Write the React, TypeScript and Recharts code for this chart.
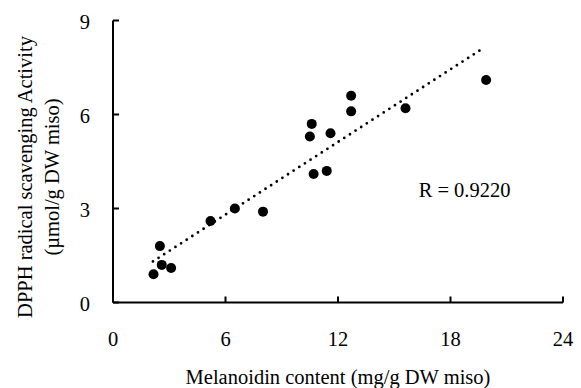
import { ReferenceDot, Scatter, ScatterChart, XAxis, YAxis } from "recharts";

const melanoidin = [2.16, 2.5, 2.6, 3.1, 5.2, 6.5, 8.0, 10.5, 10.6, 10.7, 11.4, 11.6, 12.7, 12.7, 15.6, 19.9];
const dpph = [0.9, 1.8, 1.2, 1.1, 2.6, 3.0, 2.9, 5.3, 5.7, 4.1, 4.2, 5.4, 6.6, 6.1, 6.2, 7.1];

// trendline ends
const trendX = [2.13, 19.6];
const trendY = [1.31, 8.06];

const xTicks = [0, 6, 12, 18, 24];
const yTicks = [0, 3, 6, 9];

const points = melanoidin.map((x, i) => ({ x, y: dpph[i] }));
const trend = trendX.map((x, i) => ({ x, y: trendY[i] }));

const font = '"Liberation Serif", "Times New Roman", serif';
const fs = 20.5;

function XTick({ x, y, payload }: any) {
  return (
    <g>
      <line x1={x} y1={y} x2={x} y2={y - 6} stroke="#000" strokeWidth={2} />
      <text x={x} y={y + 43.5} textAnchor="middle" fontFamily={font} fontSize={fs} fill="#000">
        {payload.value}
      </text>
    </g>
  );
}

function YTick({ x, y, payload }: any) {
  return (
    <g>
      <line x1={x} y1={y} x2={x + 6} y2={y} stroke="#000" strokeWidth={2} />
      <text x={x - 23} y={y} dy="0.4em" textAnchor="end" fontFamily={font} fontSize={fs} fill="#000">
        {payload.value}
      </text>
    </g>
  );
}

const Dot = (p: any) => <circle cx={p.cx} cy={p.cy} r={5} fill="#000" />;
const NoDot = () => null;

export default function App() {
  return (
    <div style={{ position: "absolute", left: 0, top: 0, width: 581, height: 388, background: "#fff" }}>
      <ScatterChart width={581} height={388} margin={{ top: 20.5, right: 18, bottom: 45.5, left: 0 }}>
        <XAxis
          type="number"
          dataKey="x"
          domain={[0, 24]}
          ticks={xTicks}
          height={40}
          tickSize={0}
          tickMargin={0}
          tickLine={false}
          axisLine={{ stroke: "#000", strokeWidth: 2 }}
          tick={<XTick />}
          label={{
            content: ({ viewBox }: any) => (
              <text
                x={viewBox.x + viewBox.width / 2}
                y={384.3}
                textAnchor="middle"
                fontFamily={font}
                fontSize={fs}
                fill="#000"
              >
                Melanoidin content (mg/g DW miso)
              </text>
            ),
          }}
        />
        <YAxis
          type="number"
          dataKey="y"
          domain={[0, 9]}
          ticks={yTicks}
          width={113}
          tickSize={0}
          tickMargin={0}
          tickLine={false}
          axisLine={{ stroke: "#000", strokeWidth: 2 }}
          tick={<YTick />}
          label={{
            content: () => (
              <g fontFamily={font} fontSize={fs} fill="#000">
                <text x={31.7} y={177} transform="rotate(-90 31.7 177)" textAnchor="middle">
                  DPPH radical scavenging Activity
                </text>
                <text x={58.5} y={177} transform="rotate(-90 58.5 177)" textAnchor="middle">
                  (µmol/g DW miso)
                </text>
              </g>
            ),
          }}
        />
        <Scatter
          data={trend}
          isAnimationActive={false}
          shape={NoDot}
          line={{ stroke: "#000", strokeWidth: 2.8, strokeDasharray: "0 6.7", strokeLinecap: "round" }}
        />
        <Scatter data={points} isAnimationActive={false} shape={Dot} />
        <ReferenceDot
          x={16.3}
          y={3.37}
          r={0}
          fill="none"
          stroke="none"
          label={{
            content: ({ viewBox }: any) => (
              <text x={viewBox.x} y={viewBox.y} fontFamily={font} fontSize={fs} fill="#000">
                R = 0.9220
              </text>
            ),
          }}
        />
      </ScatterChart>
    </div>
  );
}
